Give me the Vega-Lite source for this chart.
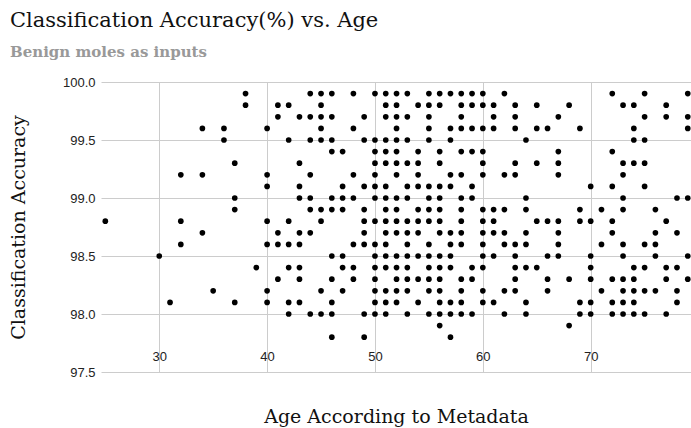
{
  "$schema": "https://vega.github.io/schema/vega-lite/v6.json",
  "autosize": "none",
  "width": 590,
  "height": 290,
  "padding": {"left": 101, "top": 82, "right": 0, "bottom": 56},
  "background": "white",
  "title": {
    "text": "Classification Accuracy(%) vs. Age",
    "subtitle": "Benign moles as inputs",
    "anchor": "start",
    "frame": "group",
    "dx": -91,
    "offset": 16,
    "font": "DejaVu Serif",
    "fontSize": 21,
    "fontWeight": "normal",
    "color": "#111111",
    "subtitleFont": "DejaVu Serif",
    "subtitleFontSize": 15,
    "subtitleFontWeight": "bold",
    "subtitleColor": "#999999",
    "subtitlePadding": 14
  },
  "config": {
    "view": {"stroke": null},
    "axis": {
      "gridColor": "#cccccc",
      "gridWidth": 1,
      "domain": false,
      "ticks": false,
      "labelFont": "Liberation Sans",
      "labelFontSize": 13,
      "labelColor": "#222222",
      "titleFont": "DejaVu Serif",
      "titleFontSize": 19,
      "titleFontWeight": "normal",
      "titleColor": "#111111"
    }
  },
  "data": {"values": [
    {"age":25,"acc":98.8},{"age":30,"acc":98.5},{"age":31,"acc":98.1},
    {"age":32,"acc":99.2},{"age":32,"acc":98.8},{"age":32,"acc":98.6},
    {"age":34,"acc":99.6},{"age":34,"acc":99.2},{"age":34,"acc":98.7},
    {"age":35,"acc":98.2},
    {"age":36,"acc":99.6},{"age":36,"acc":99.5},
    {"age":37,"acc":99.3},{"age":37,"acc":99.0},{"age":37,"acc":98.9},{"age":37,"acc":98.1},
    {"age":38,"acc":99.9},{"age":38,"acc":99.8},
    {"age":39,"acc":98.4},
    {"age":40,"acc":99.6},{"age":40,"acc":99.2},{"age":40,"acc":99.1},{"age":40,"acc":98.8},{"age":40,"acc":98.6},{"age":40,"acc":98.2},{"age":40,"acc":98.1},
    {"age":41,"acc":99.8},{"age":41,"acc":99.7},{"age":41,"acc":98.7},{"age":41,"acc":98.6},{"age":41,"acc":98.3},
    {"age":42,"acc":99.8},{"age":42,"acc":99.5},{"age":42,"acc":98.8},{"age":42,"acc":98.6},{"age":42,"acc":98.4},{"age":42,"acc":98.1},{"age":42,"acc":98.0},
    {"age":43,"acc":99.7},{"age":43,"acc":99.3},{"age":43,"acc":99.1},{"age":43,"acc":99.0},{"age":43,"acc":98.7},{"age":43,"acc":98.6},{"age":43,"acc":98.4},{"age":43,"acc":98.3},{"age":43,"acc":98.1},
    {"age":44,"acc":99.9},{"age":44,"acc":99.7},{"age":44,"acc":99.5},{"age":44,"acc":99.2},{"age":44,"acc":99.0},{"age":44,"acc":98.9},{"age":44,"acc":98.7},{"age":44,"acc":98.0},
    {"age":45,"acc":99.9},{"age":45,"acc":99.8},{"age":45,"acc":99.7},{"age":45,"acc":99.6},{"age":45,"acc":99.5},{"age":45,"acc":98.9},{"age":45,"acc":98.8},{"age":45,"acc":98.2},{"age":45,"acc":98.0},
    {"age":46,"acc":99.9},{"age":46,"acc":99.7},{"age":46,"acc":99.5},{"age":46,"acc":99.4},{"age":46,"acc":99.0},{"age":46,"acc":98.9},{"age":46,"acc":98.5},{"age":46,"acc":98.3},{"age":46,"acc":98.1},{"age":46,"acc":98.0},{"age":46,"acc":97.8},
    {"age":47,"acc":99.4},{"age":47,"acc":99.1},{"age":47,"acc":99.0},{"age":47,"acc":98.9},{"age":47,"acc":98.5},{"age":47,"acc":98.4},{"age":47,"acc":98.2},
    {"age":48,"acc":99.9},{"age":48,"acc":99.6},{"age":48,"acc":99.2},{"age":48,"acc":99.0},{"age":48,"acc":98.6},{"age":48,"acc":98.4},{"age":48,"acc":98.3},
    {"age":49,"acc":99.7},{"age":49,"acc":99.5},{"age":49,"acc":99.1},{"age":49,"acc":98.9},{"age":49,"acc":98.8},{"age":49,"acc":98.7},{"age":49,"acc":98.6},{"age":49,"acc":98.0},{"age":49,"acc":97.8},
    {"age":50,"acc":99.9},{"age":50,"acc":99.5},{"age":50,"acc":99.4},{"age":50,"acc":99.3},{"age":50,"acc":99.2},{"age":50,"acc":99.1},{"age":50,"acc":99.0},{"age":50,"acc":98.8},{"age":50,"acc":98.6},{"age":50,"acc":98.5},{"age":50,"acc":98.4},{"age":50,"acc":98.3},{"age":50,"acc":98.2},{"age":50,"acc":98.1},{"age":50,"acc":98.0},
    {"age":51,"acc":99.9},{"age":51,"acc":99.8},{"age":51,"acc":99.7},{"age":51,"acc":99.5},{"age":51,"acc":99.4},{"age":51,"acc":99.3},{"age":51,"acc":99.1},{"age":51,"acc":99.0},{"age":51,"acc":98.9},{"age":51,"acc":98.8},{"age":51,"acc":98.7},{"age":51,"acc":98.6},{"age":51,"acc":98.5},{"age":51,"acc":98.4},{"age":51,"acc":98.2},{"age":51,"acc":98.1},{"age":51,"acc":98.0},
    {"age":52,"acc":99.9},{"age":52,"acc":99.8},{"age":52,"acc":99.7},{"age":52,"acc":99.6},{"age":52,"acc":99.5},{"age":52,"acc":99.4},{"age":52,"acc":99.3},{"age":52,"acc":99.2},{"age":52,"acc":99.0},{"age":52,"acc":98.9},{"age":52,"acc":98.8},{"age":52,"acc":98.7},{"age":52,"acc":98.5},{"age":52,"acc":98.4},{"age":52,"acc":98.3},{"age":52,"acc":98.2},{"age":52,"acc":98.1},
    {"age":53,"acc":99.9},{"age":53,"acc":99.7},{"age":53,"acc":99.5},{"age":53,"acc":99.3},{"age":53,"acc":99.1},{"age":53,"acc":99.0},{"age":53,"acc":98.8},{"age":53,"acc":98.7},{"age":53,"acc":98.6},{"age":53,"acc":98.5},{"age":53,"acc":98.4},{"age":53,"acc":98.3},{"age":53,"acc":98.2},{"age":53,"acc":98.0},
    {"age":54,"acc":99.8},{"age":54,"acc":99.4},{"age":54,"acc":99.3},{"age":54,"acc":99.2},{"age":54,"acc":99.1},{"age":54,"acc":98.9},{"age":54,"acc":98.8},{"age":54,"acc":98.7},{"age":54,"acc":98.5},{"age":54,"acc":98.3},{"age":54,"acc":98.1},
    {"age":55,"acc":99.9},{"age":55,"acc":99.8},{"age":55,"acc":99.7},{"age":55,"acc":99.6},{"age":55,"acc":99.5},{"age":55,"acc":99.1},{"age":55,"acc":99.0},{"age":55,"acc":98.9},{"age":55,"acc":98.8},{"age":55,"acc":98.6},{"age":55,"acc":98.5},{"age":55,"acc":98.4},{"age":55,"acc":98.3},{"age":55,"acc":98.2},{"age":55,"acc":98.0},
    {"age":56,"acc":99.9},{"age":56,"acc":99.8},{"age":56,"acc":99.4},{"age":56,"acc":99.3},{"age":56,"acc":99.1},{"age":56,"acc":99.0},{"age":56,"acc":98.9},{"age":56,"acc":98.8},{"age":56,"acc":98.7},{"age":56,"acc":98.5},{"age":56,"acc":98.4},{"age":56,"acc":98.3},{"age":56,"acc":98.2},{"age":56,"acc":98.1},{"age":56,"acc":98.0},{"age":56,"acc":97.9},
    {"age":57,"acc":99.9},{"age":57,"acc":99.6},{"age":57,"acc":99.5},{"age":57,"acc":99.2},{"age":57,"acc":99.1},{"age":57,"acc":98.7},{"age":57,"acc":98.6},{"age":57,"acc":98.5},{"age":57,"acc":98.4},{"age":57,"acc":98.1},{"age":57,"acc":98.0},{"age":57,"acc":97.8},
    {"age":58,"acc":99.9},{"age":58,"acc":99.8},{"age":58,"acc":99.7},{"age":58,"acc":99.6},{"age":58,"acc":99.4},{"age":58,"acc":99.2},{"age":58,"acc":99.0},{"age":58,"acc":98.9},{"age":58,"acc":98.8},{"age":58,"acc":98.7},{"age":58,"acc":98.6},{"age":58,"acc":98.3},{"age":58,"acc":98.2},{"age":58,"acc":98.1},{"age":58,"acc":98.0},
    {"age":59,"acc":99.9},{"age":59,"acc":99.8},{"age":59,"acc":99.6},{"age":59,"acc":99.4},{"age":59,"acc":99.1},{"age":59,"acc":99.0},{"age":59,"acc":98.4},{"age":59,"acc":98.3},{"age":59,"acc":98.0},
    {"age":60,"acc":99.9},{"age":60,"acc":99.8},{"age":60,"acc":99.6},{"age":60,"acc":99.4},{"age":60,"acc":99.3},{"age":60,"acc":99.2},{"age":60,"acc":98.9},{"age":60,"acc":98.8},{"age":60,"acc":98.7},{"age":60,"acc":98.6},{"age":60,"acc":98.5},{"age":60,"acc":98.4},{"age":60,"acc":98.2},{"age":60,"acc":98.1},
    {"age":61,"acc":99.8},{"age":61,"acc":99.7},{"age":61,"acc":99.6},{"age":61,"acc":98.9},{"age":61,"acc":98.8},{"age":61,"acc":98.7},{"age":61,"acc":98.5},{"age":61,"acc":98.1},
    {"age":62,"acc":99.9},{"age":62,"acc":99.2},{"age":62,"acc":98.9},{"age":62,"acc":98.7},{"age":62,"acc":98.6},{"age":62,"acc":98.2},{"age":62,"acc":98.0},
    {"age":63,"acc":99.8},{"age":63,"acc":99.7},{"age":63,"acc":99.6},{"age":63,"acc":99.3},{"age":63,"acc":99.2},{"age":63,"acc":98.6},{"age":63,"acc":98.5},{"age":63,"acc":98.4},{"age":63,"acc":98.3},{"age":63,"acc":98.2},
    {"age":64,"acc":99.5},{"age":64,"acc":99.0},{"age":64,"acc":98.9},{"age":64,"acc":98.7},{"age":64,"acc":98.6},{"age":64,"acc":98.4},{"age":64,"acc":98.1},{"age":64,"acc":98.0},
    {"age":65,"acc":99.8},{"age":65,"acc":99.6},{"age":65,"acc":99.3},{"age":65,"acc":98.8},{"age":65,"acc":98.4},
    {"age":66,"acc":99.6},{"age":66,"acc":98.8},{"age":66,"acc":98.5},{"age":66,"acc":98.3},{"age":66,"acc":98.2},
    {"age":67,"acc":99.7},{"age":67,"acc":99.4},{"age":67,"acc":99.3},{"age":67,"acc":99.2},{"age":67,"acc":98.8},{"age":67,"acc":98.7},{"age":67,"acc":98.6},{"age":67,"acc":98.5},
    {"age":68,"acc":99.8},{"age":68,"acc":98.3},{"age":68,"acc":97.9},
    {"age":69,"acc":99.6},{"age":69,"acc":98.9},{"age":69,"acc":98.8},{"age":69,"acc":98.1},{"age":69,"acc":98.0},
    {"age":70,"acc":99.1},{"age":70,"acc":98.8},{"age":70,"acc":98.5},{"age":70,"acc":98.4},{"age":70,"acc":98.3},{"age":70,"acc":98.1},{"age":70,"acc":98.0},
    {"age":71,"acc":98.9},{"age":71,"acc":98.6},{"age":71,"acc":98.2},
    {"age":72,"acc":99.9},{"age":72,"acc":99.4},{"age":72,"acc":99.1},{"age":72,"acc":98.8},{"age":72,"acc":98.7},{"age":72,"acc":98.3},{"age":72,"acc":98.1},{"age":72,"acc":98.0},
    {"age":73,"acc":99.8},{"age":73,"acc":99.3},{"age":73,"acc":99.2},{"age":73,"acc":99.0},{"age":73,"acc":98.9},{"age":73,"acc":98.6},{"age":73,"acc":98.5},{"age":73,"acc":98.3},{"age":73,"acc":98.2},{"age":73,"acc":98.1},{"age":73,"acc":98.0},
    {"age":74,"acc":99.8},{"age":74,"acc":99.6},{"age":74,"acc":99.5},{"age":74,"acc":99.3},{"age":74,"acc":98.4},{"age":74,"acc":98.3},{"age":74,"acc":98.2},{"age":74,"acc":98.1},{"age":74,"acc":98.0},
    {"age":75,"acc":99.9},{"age":75,"acc":99.7},{"age":75,"acc":99.5},{"age":75,"acc":99.3},{"age":75,"acc":99.1},{"age":75,"acc":98.6},{"age":75,"acc":98.4},{"age":75,"acc":98.2},{"age":75,"acc":98.0},
    {"age":76,"acc":98.9},{"age":76,"acc":98.7},{"age":76,"acc":98.6},{"age":76,"acc":98.5},{"age":76,"acc":98.2},
    {"age":77,"acc":99.8},{"age":77,"acc":99.7},{"age":77,"acc":98.8},{"age":77,"acc":98.4},{"age":77,"acc":98.3},{"age":77,"acc":98.0},
    {"age":78,"acc":99.0},{"age":78,"acc":98.7},{"age":78,"acc":98.4},{"age":78,"acc":98.2},{"age":78,"acc":98.1},
    {"age":79,"acc":99.9},{"age":79,"acc":99.7},{"age":79,"acc":99.6},{"age":79,"acc":99.0},{"age":79,"acc":98.5},{"age":79,"acc":98.3}
  ]},
  "mark": {"type": "circle", "size": 32, "color": "#000000", "opacity": 1, "clip": true},
  "encoding": {
    "x": {
      "field": "age",
      "type": "quantitative",
      "scale": {"domain": [24.6, 79.3], "nice": false, "zero": false},
      "axis": {
        "values": [30, 40, 50, 60, 70],
        "title": "Age According to Metadata",
        "labelPadding": -22,
        "titleY": 44,
        "titleBaseline": "middle"
      }
    },
    "y": {
      "field": "acc",
      "type": "quantitative",
      "scale": {"domain": [97.5, 100], "nice": false, "zero": false},
      "axis": {
        "values": [97.5, 98, 98.5, 99, 99.5, 100],
        "format": ".1f",
        "title": "Classification Accuracy",
        "labelPadding": 6,
        "titleX": -83,
        "titleY": 145,
        "titleAngle": -90,
        "titleAlign": "center",
        "titleBaseline": "middle"
      }
    }
  }
}
